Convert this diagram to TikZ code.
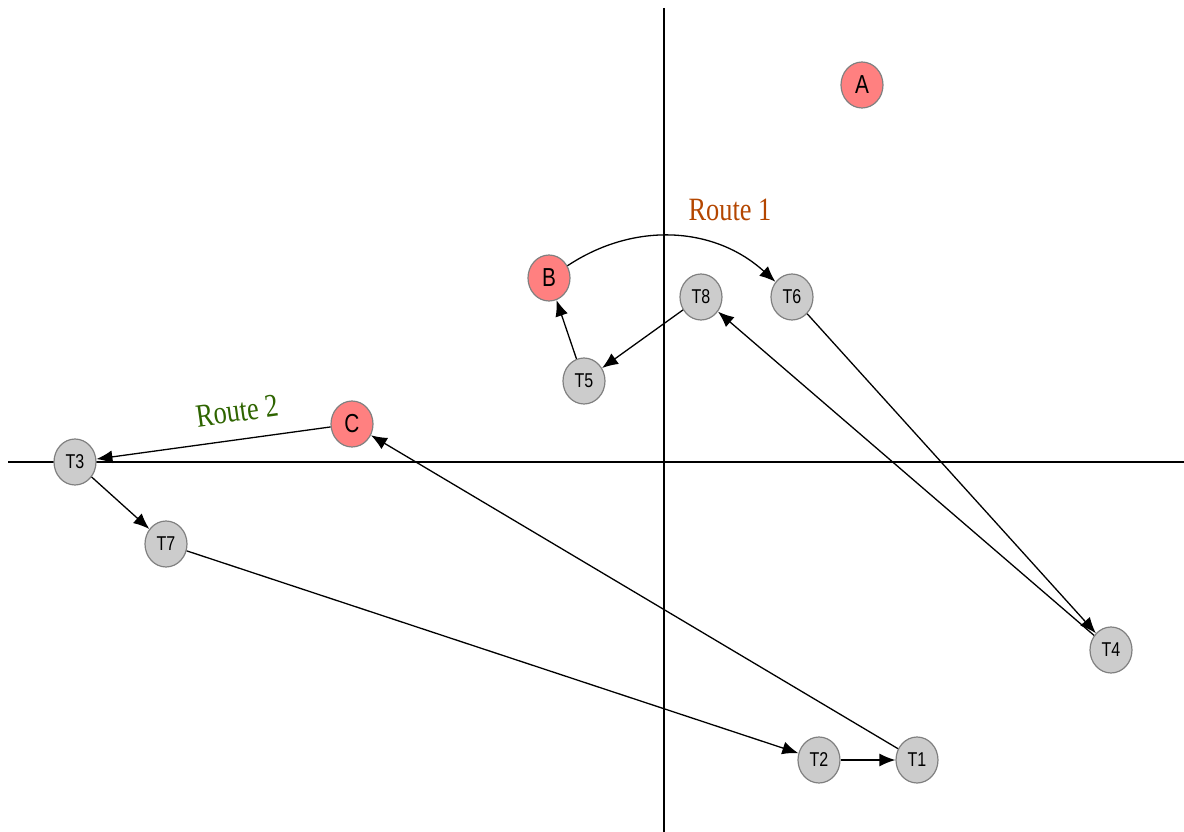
\documentclass[tikz,border=0pt]{standalone}
\usepackage{fontspec}
\setmainfont{Liberation Serif}
\setsansfont{Liberation Sans}
\usetikzlibrary{arrows.meta,shapes.geometric}
\definecolor{nodegray}{HTML}{CCCCCC}
\definecolor{nodeborder}{HTML}{808080}
\definecolor{nodered}{HTML}{FF8080}
\definecolor{routeone}{RGB}{180,70,0}
\definecolor{routetwo}{RGB}{46,100,0}
\begin{document}
\begin{tikzpicture}[x=1pt,y=-1pt,
  tnode/.style={ellipse,draw=nodeborder,line width=1.2pt,fill=nodegray,minimum width=42pt,minimum height=46pt,inner sep=0pt,font=\sffamily\fontsize{20}{20}\selectfont},
  cnode/.style={tnode,fill=nodered,font=\sffamily\fontsize{26}{26}\selectfont},
  edge/.style={line width=1.3pt,-{Latex[length=16pt,width=13pt]}},
  axis/.style={line width=1.3pt}]
\useasboundingbox (0,0) rectangle (1184,832);
\coordinate (vtop) at (664,8);
\coordinate (vbot) at (664,832);
\coordinate (hl) at (8,462);
\coordinate (hr) at (1184,462);
\draw[axis] (vtop) -- (vbot);
\draw[axis] (hl) -- (hr);
\newcommand{\lbl}[1]{\scalebox{0.8}[1]{#1}}
\node[cnode] (A) at (862,85) {\lbl{A}};
\node[cnode] (B) at (549,278) {\lbl{B}};
\node[cnode] (C) at (352,424) {\lbl{C}};
\node[tnode] (T1) at (917,760) {\lbl{T1}};
\node[tnode] (T2) at (819,760) {\lbl{T2}};
\node[tnode] (T3) at (75,462) {\lbl{T3}};
\node[tnode] (T4) at (1111,650) {\lbl{T4}};
\node[tnode] (T5) at (584,381) {\lbl{T5}};
\node[tnode] (T6) at (792,297) {\lbl{T6}};
\node[tnode] (T7) at (166,544) {\lbl{T7}};
\node[tnode] (T8) at (701,297) {\lbl{T8}};
\draw[edge] (B) to[bend left=38] (T6);
\draw[edge] (T6) -- (T4);
\draw[edge] (T4) -- (T8);
\draw[edge] (T8) -- (T5);
\draw[edge] (T5) -- (B);
\draw[edge] (C) -- (T3);
\draw[edge] (T3) -- (T7);
\draw[edge] (T7) -- (T2);
\draw[edge] (T2) -- (T1);
\draw[edge] (T1) -- (C);
\node[text=routeone,font=\fontsize{31}{31}\selectfont,inner sep=0pt] (r1) at (730,210) {\scalebox{0.85}[1.05]{Route 1}};
\node[text=routetwo,font=\fontsize{31}{31}\selectfont,inner sep=0pt,rotate=8] (r2) at (237,411) {\scalebox{0.85}[1.05]{Route 2}};
\end{tikzpicture}
\end{document}
